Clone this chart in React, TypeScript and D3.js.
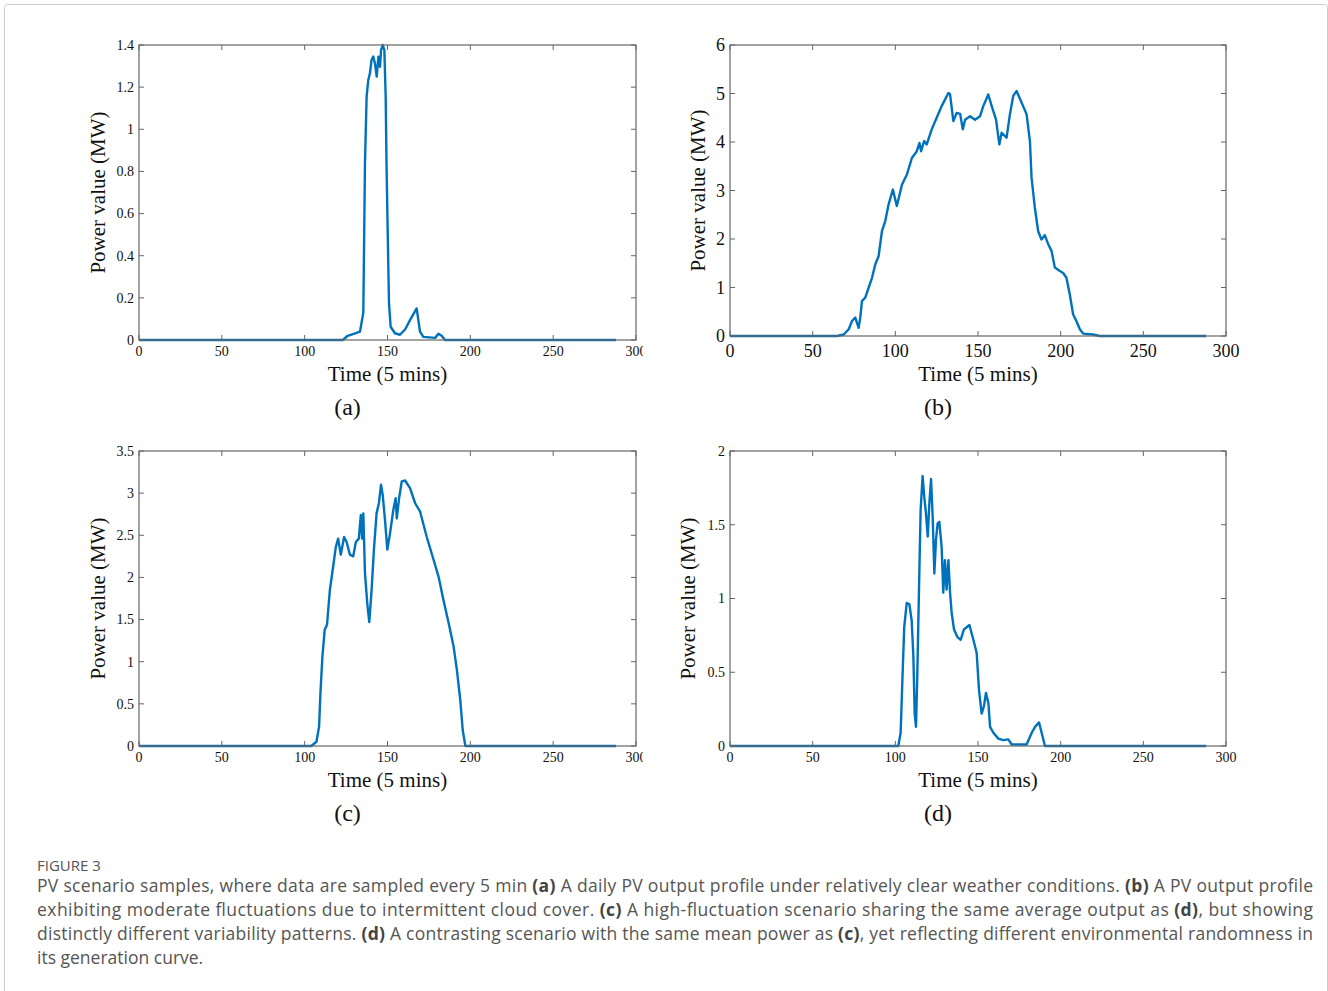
import React from "react";
import * as d3 from "d3";

// time index (5 min steps) and power value (MW)
const seriesA: [number, number][] = [
  [0, 0], [123, 0], [126, 0.02], [130, 0.03], [133.4, 0.04], [135.4, 0.13], [136.4, 0.84],
  [137.4, 1.155], [138.4, 1.234], [139.4, 1.266], [140.4, 1.33], [141.4, 1.345], [142.4, 1.313],
  [143.5, 1.25], [144.5, 1.345], [145.5, 1.297], [146.1, 1.376], [147.1, 1.4], [148.1, 1.376],
  [148.9, 1.155], [149.4, 0.839], [150.1, 0.522], [150.9, 0.175], [151.9, 0.063], [154.5, 0.032],
  [157.5, 0.025], [160.6, 0.05], [164, 0.1], [167.6, 0.15], [169.6, 0.04], [171.6, 0.015],
  [178.7, 0.01], [180.7, 0.03], [182.7, 0.02], [184.7, 0], [288, 0],
];

const seriesB: [number, number][] = [
  [0, 0], [64.7, 0], [68.8, 0.03], [71.8, 0.14], [73.8, 0.31], [75.8, 0.38], [77.8, 0.17],
  [78.8, 0.38], [79.8, 0.72], [81.8, 0.79], [83.9, 1.0], [85.9, 1.2], [87.9, 1.48], [89.9, 1.65],
  [91.9, 2.16], [93.9, 2.37], [95.9, 2.71], [98.5, 3.02], [100.9, 2.68], [104, 3.12], [107, 3.33],
  [110, 3.67], [113, 3.81], [114.6, 3.98], [115.6, 3.81], [117.4, 4.02], [119, 3.95], [122, 4.26],
  [125, 4.5], [128, 4.74], [132.1, 5.01], [133.1, 4.98], [135.1, 4.43], [137.1, 4.6], [139.2, 4.58],
  [140.8, 4.26], [142.2, 4.46], [145.2, 4.53], [148.2, 4.46], [151.2, 4.53], [153.2, 4.74],
  [156.2, 4.98], [158.3, 4.74], [160.9, 4.46], [162.9, 3.95], [164.3, 4.19], [167.3, 4.09],
  [169.3, 4.57], [171.3, 4.95], [173.3, 5.05], [176.4, 4.81], [179.4, 4.57], [181.4, 4.02],
  [182.4, 3.26], [184.4, 2.64], [186.4, 2.16], [188.4, 1.99], [190.4, 2.08], [192.5, 1.89],
  [194.5, 1.75], [196.5, 1.41], [199.5, 1.34], [201.5, 1.3], [203.5, 1.2], [205.5, 0.86],
  [207.5, 0.45], [209.5, 0.31], [211.6, 0.14], [213.6, 0.05], [219.6, 0.03], [223.6, 0], [288, 0],
];

const seriesC: [number, number][] = [
  [0, 0], [104, 0], [107.1, 0.05], [108.7, 0.23], [109.5, 0.62], [110.7, 1.06], [112.1, 1.38],
  [113.5, 1.44], [115.2, 1.85], [117.2, 2.13], [118.8, 2.36], [120.2, 2.46], [121.8, 2.27],
  [123.8, 2.48], [125.3, 2.42], [127.3, 2.27], [129.3, 2.25], [130.9, 2.42], [132.7, 2.46],
  [133.9, 2.74], [134.7, 2.46], [135.4, 2.76], [136.4, 2.05], [137.8, 1.69], [139, 1.47],
  [140.4, 1.85], [141.8, 2.33], [143.4, 2.76], [144.8, 2.88], [146.1, 3.1], [147.1, 2.98],
  [148.5, 2.68], [149.9, 2.33], [151.5, 2.52], [153.5, 2.8], [154.9, 2.94], [155.6, 2.7],
  [157, 2.94], [158.6, 3.14], [160.6, 3.15], [163.6, 3.06], [166.7, 2.88], [169.7, 2.78],
  [173.7, 2.48], [177.8, 2.21], [180.8, 2.01], [183.8, 1.73], [186.9, 1.46], [189.9, 1.18],
  [191.9, 0.9], [193.9, 0.55], [195.4, 0.19], [197, 0], [288, 0],
];

const seriesD: [number, number][] = [
  [0, 0], [101.8, 0], [103.2, 0.09], [104.4, 0.49], [105.4, 0.81], [106.9, 0.97], [108.5, 0.96],
  [109.9, 0.85], [110.9, 0.61], [111.7, 0.22], [112.5, 0.13], [113.3, 0.49], [114.5, 1.17],
  [115.3, 1.6], [116.5, 1.83], [117.5, 1.69], [118.5, 1.58], [119.6, 1.42], [120.6, 1.65],
  [121.6, 1.81], [122.6, 1.55], [123.6, 1.17], [124.6, 1.4], [125.6, 1.51], [126.6, 1.52],
  [128, 1.35], [129, 1.04], [130, 1.26], [131, 1.06], [132.1, 1.26], [133.1, 1.04], [134.1, 0.9],
  [135.5, 0.79], [137.5, 0.74], [139.5, 0.72], [141.5, 0.79], [144.8, 0.82], [147.2, 0.72],
  [149.2, 0.63], [150.6, 0.38], [152.2, 0.22], [153.6, 0.27], [154.8, 0.36], [156.3, 0.29],
  [157.3, 0.13], [159.3, 0.09], [162.3, 0.05], [165.3, 0.04], [168.3, 0.045], [170.4, 0.01],
  [179.4, 0.01], [182.5, 0.09], [184.5, 0.13], [186.9, 0.16], [188.5, 0.09], [190.5, 0], [288, 0],
];

const xTicks = [0, 50, 100, 150, 200, 250, 300];
const yTicksA = ["0", "0.2", "0.4", "0.6", "0.8", "1", "1.2", "1.4"];
const yTicksB = ["0", "1", "2", "3", "4", "5", "6"];
const yTicksC = ["0", "0.5", "1", "1.5", "2", "2.5", "3", "3.5"];
const yTicksD = ["0", "0.5", "1", "1.5", "2"];

const serif = "'Liberation Serif', 'Times New Roman', serif";
const sans = "'Open Sans', 'Noto Sans', sans-serif";
const axisColor = "#666";
const lineColor = "#0072BD";

type PanelProps = {
  data: [number, number][];
  yTicks: string[];
  yMax: number;
  left: number;
  right: number;
  top: number;
  bottom: number;
  base: number;
  tickFont: number;
  tickGap: number;
  yTitleX: number;
  letter: string;
  clipRight?: number;
  id: string;
};

function Panel(p: PanelProps) {
  const x = d3.scaleLinear().domain([0, 300]).range([p.left, p.right]);
  const y = d3.scaleLinear().domain([0, p.yMax]).range([p.bottom, p.top]);
  const line = d3.line<[number, number]>().x(d => x(d[0])).y(d => y(d[1]));
  const tl = 5;
  const cx = (p.left + p.right) / 2;
  return (
    <g clipPath={p.clipRight ? `url(#${p.id})` : undefined}>
      {p.clipRight && (
        <defs>
          <clipPath id={p.id}>
            <rect x={0} y={0} width={p.clipRight} height={991} />
          </clipPath>
        </defs>
      )}
      <path d={line(p.data) || ""} fill="none" stroke={lineColor} strokeWidth={2.4} strokeLinejoin="round" />
      <rect x={p.left} y={p.top} width={p.right - p.left} height={p.bottom - p.top}
        fill="none" stroke={axisColor} strokeWidth={1.2} />
      {xTicks.map(t => (
        <g key={"x" + t}>
          <line x1={x(t)} x2={x(t)} y1={p.bottom} y2={p.bottom - tl} stroke={axisColor} />
          <line x1={x(t)} x2={x(t)} y1={p.top} y2={p.top + tl} stroke={axisColor} />
          <text x={x(t)} y={p.bottom + p.tickGap} dy="0.75em" textAnchor="middle"
            fontFamily={serif} fontSize={p.tickFont} fill="#111">{t}</text>
        </g>
      ))}
      {p.yTicks.map(t => (
        <g key={"y" + t}>
          <line x1={p.left} x2={p.left + tl} y1={y(+t)} y2={y(+t)} stroke={axisColor} />
          <line x1={p.right} x2={p.right - tl} y1={y(+t)} y2={y(+t)} stroke={axisColor} />
          <text x={p.left - 5} y={y(+t)} dy="0.35em" textAnchor="end"
            fontFamily={serif} fontSize={p.tickFont} fill="#111">{t}</text>
        </g>
      ))}
      <text x={cx} y={p.base + 41} textAnchor="middle" fontFamily={serif} fontSize={21} fill="#111">
        Time (5 mins)
      </text>
      <text transform={`translate(${p.yTitleX},${(p.top + p.bottom) / 2}) rotate(-90)`} dy="0.35em"
        textAnchor="middle" fontFamily={serif} fontSize={21} fill="#111">
        Power value (MW)
      </text>
      <text x={cx - 40} y={p.base + 75} textAnchor="middle" fontFamily={serif} fontSize={24} fill="#111">
        {p.letter}
      </text>
    </g>
  );
}

const captionLines: { parts: [string, boolean][]; fit: boolean }[] = [
  { parts: [["PV scenario samples, where data are sampled every 5 min ", false], ["(a)", true],
    [" A daily PV output profile under relatively clear weather conditions. ", false], ["(b)", true],
    [" A PV output profile", false]], fit: true },
  { parts: [["exhibiting moderate fluctuations due to intermittent cloud cover. ", false], ["(c)", true],
    [" A high-fluctuation scenario sharing the same average output as ", false], ["(d)", true],
    [", but showing", false]], fit: true },
  { parts: [["distinctly different variability patterns. ", false], ["(d)", true],
    [" A contrasting scenario with the same mean power as ", false], ["(c)", true],
    [", yet reflecting different environmental randomness in", false]], fit: true },
  { parts: [["its generation curve.", false]], fit: false },
];

export default function App() {
  return (
    <svg width={1328} height={991} style={{ position: "absolute", left: 0, top: 0, background: "#fff" }}>
      <rect x={4.5} y={4.5} width={1323} height={1000} rx={3} fill="#fff" stroke="#ccc" />
      <Panel id="ca" data={seriesA} yTicks={yTicksA} yMax={1.4} left={139} right={636} top={45} bottom={340}
        base={340} tickFont={14} tickGap={5} yTitleX={98} letter="(a)" clipRight={643} />
      <Panel id="cb" data={seriesB} yTicks={yTicksB} yMax={6} left={730} right={1226} top={45} bottom={336}
        base={340} tickFont={18} tickGap={7} yTitleX={698} letter="(b)" />
      <Panel id="cc" data={seriesC} yTicks={yTicksC} yMax={3.5} left={139} right={636} top={451} bottom={746}
        base={746} tickFont={14} tickGap={5} yTitleX={98} letter="(c)" clipRight={643} />
      <Panel id="cd" data={seriesD} yTicks={yTicksD} yMax={2} left={730} right={1226} top={451} bottom={746}
        base={746} tickFont={14} tickGap={5} yTitleX={688} letter="(d)" />
      <text x={37} y={871} fontFamily={sans} fontSize={15} fill="#555">FIGURE 3</text>
      {captionLines.map((l, i) => (
        <text key={i} x={37} y={892 + i * 24} fontFamily={sans} fontSize={17.5} fill="#555"
          textLength={l.fit ? 1276 : undefined} lengthAdjust="spacing">
          {l.parts.map((pt, j) => (
            <tspan key={j} fontWeight={pt[1] ? 700 : 400} fill={pt[1] ? "#444" : "#555"}>{pt[0]}</tspan>
          ))}
        </text>
      ))}
    </svg>
  );
}
